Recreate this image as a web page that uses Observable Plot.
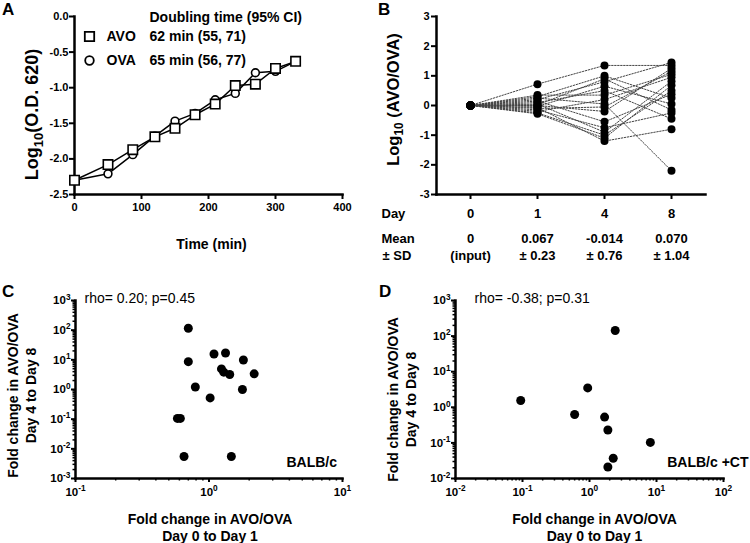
<!DOCTYPE html>
<html><head><meta charset="utf-8">
<script src="https://cdn.jsdelivr.net/npm/d3@7"></script>
<script src="https://cdn.jsdelivr.net/npm/@observablehq/plot@0.6"></script>
<style>
body{margin:0;background:#fff;}
#fig{position:relative;width:750px;height:543px;overflow:hidden;font-family:'Liberation Sans',Arial,Helvetica,sans-serif;background:#fff;}
.panel{position:absolute;}
.letter{position:absolute;font-weight:bold;font-size:17px;line-height:17px;}
</style></head><body><div id="fig"></div>
<script>
// ---------- Panel A data ----------
const timeAVO = [0, 50, 87, 120, 150, 180, 210, 240, 270, 300, 330];
const logODAVO = [-2.30, -2.08, -1.87, -1.69, -1.57, -1.38, -1.23, -0.97, -0.95, -0.73, -0.63];
const timeOVA = [0, 50, 87, 120, 150, 180, 210, 240, 270, 300, 330];
const logODOVA = [-2.30, -2.21, -1.94, -1.68, -1.47, -1.36, -1.17, -1.08, -0.79, -0.77, -0.63];
const aXTicks = [0, 100, 200, 300, 400];
const aYTicks = [0, -0.5, -1, -1.5, -2, -2.5];
const legendTitle = "Doubling time (95% CI)";
const legendNames = ["AVO", "OVA"];
const legendValues = ["62 min (55, 71)", "65 min (56, 77)"];

// ---------- Panel B data (log10 AVO/OVA per mouse) ----------
const days = [0, 1, 4, 8];
const bDay0 = [0, 0, 0, 0, 0, 0, 0, 0, 0, 0, 0, 0, 0, 0, 0, 0, 0];
const bDay1 = [0.72, 0.35, 0.30, 0.25, 0.20, 0.15, 0.10, 0.05, 0.02, 0.00, -0.03, -0.07, -0.10, -0.15, -0.20, -0.25, -0.28];
const bDay4 = [1.35, 0.35, 1.00, 0.05, 0.80, -0.55, 0.50, -0.90, 0.90, -0.20, 0.65, -1.20, -0.05, -0.75, 0.20, -1.00, -1.10];
const bDay8 = [1.35, 1.05, 0.25, -2.20, 1.45, 0.38, -0.45, 0.82, -0.15, 1.25, 0.05, -0.80, 1.15, -0.25, 0.95, 0.50, 0.68];
const bYTicks = [-3, -2, -1, 0, 1, 2, 3];
const meanLabels = ["0", "0.067", "-0.014", "0.070"];
const sdLabels = ["(input)", "± 0.23", "± 0.76", "± 1.04"];

// ---------- Panel C data ----------
const cFoldD0D1 = [0.70, 0.70, 1.09, 1.33, 1.24, 1.29, 1.43, 1.81, 2.18, 0.79, 1.02, 1.78, 0.58, 0.61, 0.65, 1.47];
const cFoldD4D8 = [116, 8.7, 15.7, 17, 4.95, 3.84, 3.2, 9.9, 3.37, 1.21, 0.52, 1.0, 0.106, 0.106, 0.0055, 0.0055];
const cXMajor = [0.1, 1, 10];
const cYMajor = [1e-3, 1e-2, 1e-1, 1, 10, 100, 1000];

// ---------- Panel D data ----------
const dFoldD0D1 = [2.42, 0.94, 0.094, 0.60, 1.68, 1.88, 8.1, 2.26, 1.88];
const dFoldD4D8 = [144, 3.5, 1.55, 0.63, 0.53, 0.23, 0.103, 0.037, 0.021];
const dXMajor = [0.01, 0.1, 1, 10, 100];
const dYMajor = [0.01, 0.1, 1, 10, 100, 1000];

const xTitle = "Fold change in AVO/OVA\nDay 0 to Day 1";
const yTitle = "Fold change in AVO/OVA\nDay 4 to Day 8";

// ---------- helpers ----------
const FONT = "'Liberation Sans', Arial, Helvetica, sans-serif";
const baseStyle = () => ({fontFamily: FONT, fontWeight: "bold", fontSize: "11px", background: "transparent", color: "black", overflow: "visible"});
const logFmt = d => "10{^" + Math.round(Math.log10(d)) + "}";
function minorTicks(majors) {
  const out = [];
  for (let i = 0; i < majors.length - 1; i++) for (let k = 2; k <= 9; k++) out.push(majors[i] * k);
  return out;
}
const svgNS = "http://www.w3.org/2000/svg";
function richify(root) {
  const els = Array.from(root.querySelectorAll("text, tspan"));
  for (const el of els) {
    if (el.childNodes.length !== 1 || el.firstChild.nodeType !== 3) continue;
    const s = el.textContent;
    if (!/\{[_^]/.test(s)) continue;
    const fs = parseFloat(getComputedStyle(el).fontSize) || 11;
    el.textContent = "";
    let shift = 0;
    for (const part of s.split(/(\{[_^][^}]*\})/)) {
      if (!part) continue;
      const m = part.match(/^\{([_^])(.*)\}$/);
      const t = document.createElementNS(svgNS, "tspan");
      if (m) {
        const d = m[1] === "^" ? -0.38 * fs : 0.28 * fs;
        t.setAttribute("dy", (d - shift).toFixed(2));
        t.setAttribute("font-size", (fs * 0.72).toFixed(1));
        shift = d;
        t.textContent = m[2];
      } else {
        t.setAttribute("dy", (-shift).toFixed(2));
        shift = 0;
        t.textContent = part;
      }
      el.appendChild(t);
    }
  }
}
const fig = document.getElementById("fig");
function place(node, left, top) {
  const div = document.createElement("div");
  div.className = "panel";
  div.style.left = left + "px";
  div.style.top = top + "px";
  div.appendChild(node);
  fig.appendChild(div);
}
function letter(txt, left, top) {
  const div = document.createElement("div");
  div.className = "letter";
  div.style.left = left + "px";
  div.style.top = top + "px";
  div.textContent = txt;
  fig.appendChild(div);
}
const T = d => d;
const M = {lineAnchor: "middle"};

// ---------- Panel A ----------
const aTable = [
  ...timeAVO.map((t, i) => ({series: "AVO", t, v: logODAVO[i]})),
  ...timeOVA.map((t, i) => ({series: "OVA", t, v: logODOVA[i]}))
];
const plotA = Plot.plot({
  width: 375, height: 270, marginLeft: 74, marginRight: 33, marginTop: 16, marginBottom: 76,
  style: baseStyle(),
  x: {domain: [0, 400]}, y: {domain: [-2.5, 0]},
  marks: [
    Plot.axisX({ticks: aXTicks, tickSize: 5, tickPadding: 4, strokeWidth: 2, label: null, tickFormat: d => String(d)}),
    Plot.axisY({ticks: aYTicks, tickSize: 5, tickPadding: 1, strokeWidth: 2, label: null, tickFormat: d => d.toFixed(1)}),
    Plot.frame({anchor: "left", strokeWidth: 2.5}),
    Plot.frame({anchor: "bottom", strokeWidth: 2.5}),
    Plot.line(aTable, {x: "t", y: "v", z: "series", stroke: "black", strokeWidth: 1.5}),
    Plot.dot(aTable.filter(d => d.series === "OVA"), {x: "t", y: "v", symbol: "circle", r: 3.9, fill: "white", stroke: "black", strokeWidth: 1.6}),
    Plot.dot(aTable.filter(d => d.series === "AVO"), {x: "t", y: "v", symbol: "square", r: 5.3, fill: "white", stroke: "black", strokeWidth: 1.6}),
    // legend
    Plot.text([legendTitle], {...M, frameAnchor: "top-left", dx: 75, dy: 1, textAnchor: "start", fontSize: 14, text: T}),
    Plot.dot([legendNames[0]], {frameAnchor: "top-left", dx: 15, dy: 20, symbol: "square", r: 5.3, fill: "white", stroke: "black", strokeWidth: 1.8}),
    Plot.dot([legendNames[1]], {frameAnchor: "top-left", dx: 15, dy: 44, symbol: "circle", r: 4.3, fill: "white", stroke: "black", strokeWidth: 1.8}),
    Plot.text([legendNames[0]], {...M, frameAnchor: "top-left", dx: 32, dy: 20, textAnchor: "start", fontSize: 14, text: T}),
    Plot.text([legendNames[1]], {...M, frameAnchor: "top-left", dx: 32, dy: 44, textAnchor: "start", fontSize: 14, text: T}),
    Plot.text([legendValues[0]], {...M, frameAnchor: "top-left", dx: 75, dy: 20, textAnchor: "start", fontSize: 14, text: T}),
    Plot.text([legendValues[1]], {...M, frameAnchor: "top-left", dx: 75, dy: 44, textAnchor: "start", fontSize: 14, text: T}),
    // axis titles
    Plot.text(["Time (min)"], {...M, frameAnchor: "bottom", dx: 3, dy: 50, fontSize: 14, text: T}),
    Plot.text(["Log{_10}(O.D. 620)"], {...M, frameAnchor: "left", textAnchor: "middle", rotate: -90, dx: -42, dy: 9, fontSize: 18, text: T})
  ]
});
place(plotA, 0, 0);

// ---------- Panel B ----------
const bSeries = [bDay0, bDay1, bDay4, bDay8];
const bTable = [];
bDay1.forEach((_, i) => days.forEach((day, j) => bTable.push({mouse: i, day, v: bSeries[j][i]})));
const bText = days.map((day, i) => ({day, mean: meanLabels[i], sd: sdLabels[i]}));
const plotB = Plot.plot({
  width: 375, height: 270, marginLeft: 61, marginRight: 45, marginTop: 16, marginBottom: 76,
  style: baseStyle(),
  x: {type: "point", domain: days, padding: 0.5}, y: {domain: [-3, 3]},
  marks: [
    Plot.axisX({ticks: days, tickSize: 5, tickPadding: 9, strokeWidth: 2, fontSize: 13, label: null, tickFormat: d => String(d)}),
    Plot.axisY({ticks: bYTicks, tickSize: 5, tickPadding: 2, strokeWidth: 2, label: null, tickFormat: d => String(d)}),
    Plot.frame({anchor: "left", strokeWidth: 2.5}),
    Plot.frame({anchor: "bottom", strokeWidth: 2.5}),
    Plot.line(bTable, {x: "day", y: "v", z: "mouse", stroke: "#444", strokeWidth: 1, strokeDasharray: "1.5,1.5"}),
    Plot.dot(bTable, {x: "day", y: "v", r: 4, fill: "black"}),
    Plot.text(["Day"], {...M, frameAnchor: "bottom-left", dx: -55, dy: 19, textAnchor: "start", fontSize: 13, text: T}),
    Plot.text(["Mean"], {...M, frameAnchor: "bottom-left", dx: -55, dy: 44, textAnchor: "start", fontSize: 13, text: T}),
    Plot.text(["± SD"], {...M, frameAnchor: "bottom-left", dx: -54, dy: 61, textAnchor: "start", fontSize: 13, text: T}),
    Plot.text(bText, {...M, x: "day", text: "mean", frameAnchor: "bottom", dy: 44, fontSize: 13}),
    Plot.text(bText, {...M, x: "day", text: "sd", frameAnchor: "bottom", dy: 61, fontSize: 13}),
    Plot.text(["Log{_10} (AVO/OVA)"], {...M, frameAnchor: "left", textAnchor: "middle", rotate: -90, dx: -43, dy: -6, fontSize: 16.5, text: T})
  ]
});
place(plotB, 375, 0);

// ---------- Panels C & D ----------
function scatterPanel({xs, ys, xMajor, yMajor, mLeft, mRight, rho, strain, strainDx, ylabDx, ylabDy, xlabDx, rhoDx}) {
  const table = xs.map((x, i) => ({x, y: ys[i]}));
  return Plot.plot({
    width: 375, height: 273, marginLeft: mLeft, marginRight: mRight, marginTop: 30, marginBottom: 65,
    style: baseStyle(),
    x: {type: "log", domain: [xMajor[0], xMajor[xMajor.length - 1]]},
    y: {type: "log", domain: [yMajor[0], yMajor[yMajor.length - 1]]},
    marks: [
      Plot.axisX({ticks: minorTicks(xMajor), tickSize: 2.5, strokeWidth: 1.5, tickFormat: () => "", label: null}),
      Plot.axisX({ticks: xMajor, tickSize: 4, tickPadding: 5, strokeWidth: 2, fontSize: 11.5, tickFormat: logFmt, label: null}),
      Plot.axisY({ticks: minorTicks(yMajor), tickSize: 2.5, strokeWidth: 1.5, tickFormat: () => "", label: null}),
      Plot.axisY({ticks: yMajor, tickSize: 4, tickPadding: 1, strokeWidth: 2, fontSize: 11.5, tickFormat: logFmt, label: null}),
      Plot.frame({anchor: "left", strokeWidth: 2.5}),
      Plot.frame({anchor: "bottom", strokeWidth: 2.5}),
      Plot.dot(table, {x: "x", y: "y", r: 4.5, fill: "black"}),
      Plot.text([rho], {...M, frameAnchor: "top-left", dx: rhoDx, dy: -2, textAnchor: "start", fontWeight: "normal", fontSize: 14, text: T}),
      Plot.text([strain], {...M, frameAnchor: "bottom-right", dx: strainDx, dy: -15.5, textAnchor: "end", fontSize: 14, text: T}),
      Plot.text([yTitle], {...M, frameAnchor: "left", textAnchor: "middle", rotate: -90, dx: ylabDx, dy: ylabDy, fontSize: 14, lineHeight: 1.29, text: T}),
      Plot.text([xTitle], {...M, frameAnchor: "bottom", dx: xlabDx, dy: 48.5, fontSize: 14, lineHeight: 1.21, text: T})
    ]
  });
}
place(scatterPanel({xs: cFoldD0D1, ys: cFoldD4D8, xMajor: cXMajor, yMajor: cYMajor, mLeft: 75, mRight: 33,
  rho: "rho= 0.20; p=0.45", strain: "BALB/c", strainDx: -5.5, ylabDx: -54, ylabDy: 6, xlabDx: 1, rhoDx: 9}), 0, 270);
place(scatterPanel({xs: dFoldD0D1, ys: dFoldD4D8, xMajor: dXMajor, yMajor: dYMajor, mLeft: 80, mRight: 27,
  rho: "rho= -0.38; p=0.31", strain: "BALB/c +CT", strainDx: 25, ylabDx: -54, ylabDy: 10, xlabDx: 5, rhoDx: 19}), 375, 270);

letter("A", 2, 1);
letter("B", 378, 1);
letter("C", 2, 283);
letter("D", 379, 283);

richify(fig);
</script></body></html>
